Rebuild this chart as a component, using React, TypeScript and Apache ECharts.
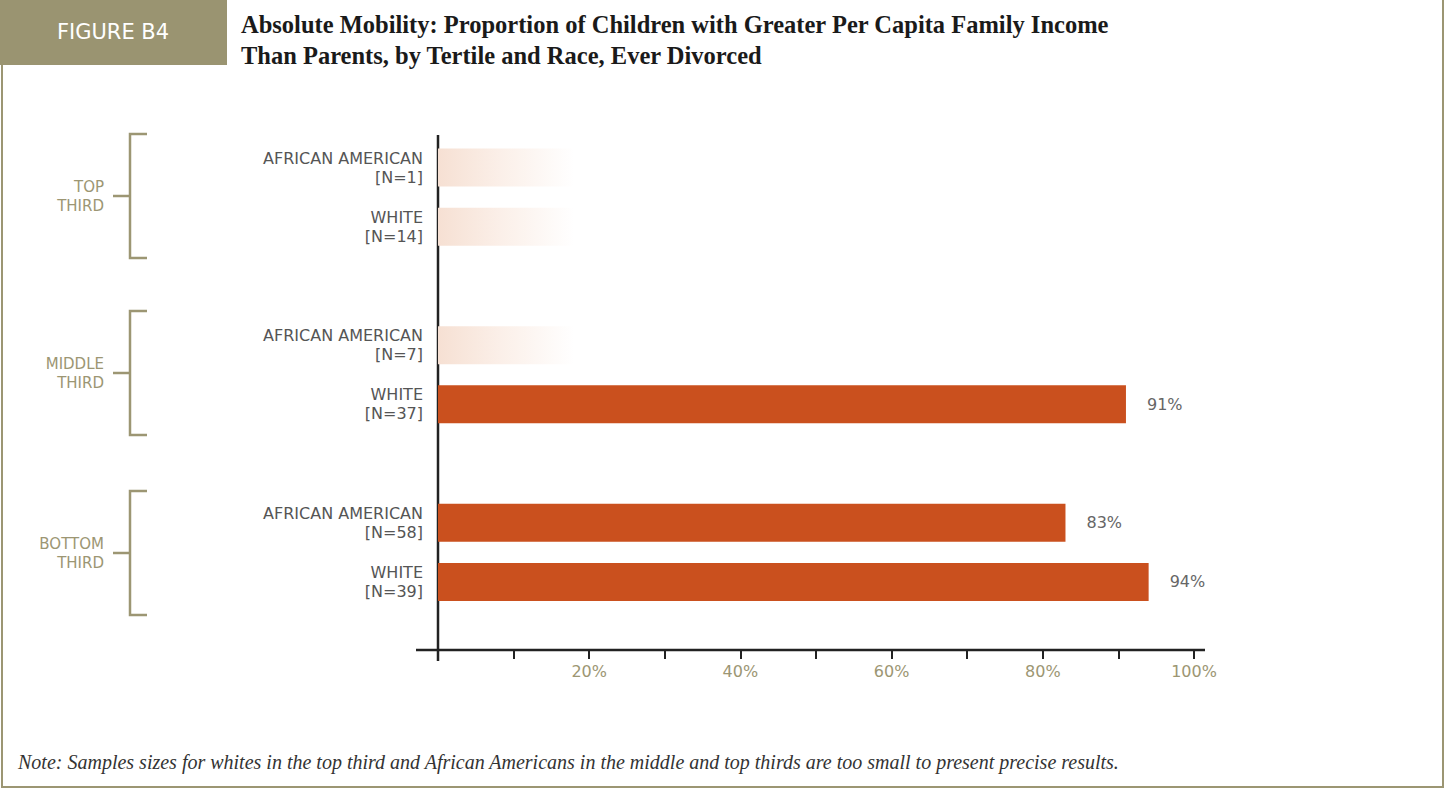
import React, { useEffect, useRef } from "react";
import * as echarts from "echarts";

const categories = [
  "AFRICAN AMERICAN\n[N=1]",
  "WHITE\n[N=14]",
  "",
  "AFRICAN AMERICAN\n[N=7]",
  "WHITE\n[N=37]",
  " ",
  "AFRICAN AMERICAN\n[N=58]",
  "WHITE\n[N=39]",
];
const values: (number | null)[] = [null, null, null, null, 91, null, 83, 94];
const smallSample: (number | null)[] = [18, 18, null, 18, null, null, null, null];
const groupLabels = ["TOP\nTHIRD", "MIDDLE\nTHIRD", "BOTTOM\nTHIRD"];

const TAN = "#9c9673";
const BAR = "#ca501e";
const SANS = "'DejaVu Sans', Verdana, sans-serif";
const SERIF = "'Liberation Serif', 'DejaVu Serif', serif";

export default function App() {
  const ref = useRef<HTMLDivElement>(null);
  useEffect(() => {
    document.body.style.margin = "0";
    const chart = echarts.init(ref.current!, null, { renderer: "svg" });
    const groupCenters = [196, 373, 553];
    const brackets: any[] = [];
    groupCenters.forEach((c, i) => {
      brackets.push({
        type: "polyline",
        shape: { points: [[147, c - 62], [130, c - 62], [130, c + 62], [147, c + 62]] },
        style: { stroke: TAN, lineWidth: 2.5, fill: null },
      });
      brackets.push({
        type: "line",
        shape: { x1: 113, y1: c, x2: 130, y2: c },
        style: { stroke: TAN, lineWidth: 2.5 },
      });
      brackets.push({
        type: "text",
        x: 104,
        y: c,
        style: {
          text: groupLabels[i],
          fill: TAN,
          font: `15px ${SANS}`,
          align: "right",
          verticalAlign: "middle",
          lineHeight: 19,
        },
      });
    });
    chart.setOption({
      animation: false,
      backgroundColor: "#ffffff",
      grid: { left: 438, right: 251, top: 138, bottom: 177.5, containLabel: false },
      xAxis: {
        type: "value",
        min: 0,
        max: 100,
        interval: 10,
        offset: 38.5,
        axisLine: { show: false },
        axisTick: { show: true, length: 9, lineStyle: { color: "#222", width: 2 } },
        splitLine: { show: false },
        axisLabel: {
          color: TAN,
          fontFamily: SANS,
          fontSize: 16,
          margin: 13,
          formatter: (v: number) => (v > 0 && v % 20 === 0 ? v + "%" : ""),
        },
      },
      yAxis: {
        type: "category",
        inverse: true,
        data: categories,
        axisLine: { show: false },
        axisTick: { show: false },
        axisLabel: {
          color: "#555",
          fontFamily: SANS,
          fontSize: 16,
          lineHeight: 19,
          margin: 15,
          align: "right",
        },
      },
      series: [
        {
          type: "bar",
          data: smallSample,
          barWidth: 38,
          barGap: "-100%",
          itemStyle: {
            color: new echarts.graphic.LinearGradient(0, 0, 1, 0, [
              { offset: 0, color: "#f6e0d3" },
              { offset: 0.45, color: "#fbefe8" },
              { offset: 1, color: "#ffffff" },
            ]),
          },
          silent: true,
        },
        {
          type: "bar",
          data: values,
          barWidth: 38,
          barGap: "-100%",
          itemStyle: { color: BAR },
          label: {
            show: true,
            position: "right",
            distance: 21,
            color: "#666",
            fontFamily: SANS,
            fontSize: 16,
            formatter: (p: any) => p.value + "%",
          },
        },
      ],
      graphic: [
        { type: "rect", shape: { x: 0, y: 0, width: 227, height: 65 }, style: { fill: "#9a9471" } },
        {
          type: "text",
          x: 113,
          y: 32,
          style: {
            text: "FIGURE B4",
            fill: "#ffffff",
            font: `21px ${SANS}`,
            align: "center",
            verticalAlign: "middle",
          },
        },
        {
          type: "text",
          x: 241,
          y: 9,
          style: {
            text:
              "Absolute Mobility: Proportion of Children with Greater Per Capita Family Income\nThan Parents, by Tertile and Race, Ever Divorced",
            fill: "#1a1a1a",
            font: `bold 24.5px ${SERIF}`,
            lineHeight: 31,
          },
        },
        { type: "line", shape: { x1: 2, y1: 65, x2: 2, y2: 788 }, style: { stroke: TAN, lineWidth: 2 } },
        { type: "line", shape: { x1: 1443, y1: 0, x2: 1443, y2: 788 }, style: { stroke: TAN, lineWidth: 2 } },
        { type: "line", shape: { x1: 1, y1: 787, x2: 1444, y2: 787 }, style: { stroke: TAN, lineWidth: 2 } },
        { type: "line", shape: { x1: 438, y1: 135, x2: 438, y2: 661 }, style: { stroke: "#222", lineWidth: 2.5 } },
        { type: "line", shape: { x1: 416, y1: 650, x2: 1205, y2: 650 }, style: { stroke: "#222", lineWidth: 2.5 } },
        ...brackets,
        {
          type: "text",
          x: 18,
          y: 762,
          style: {
            text:
              "Note: Samples sizes for whites in the top third and African Americans in the middle and top thirds are too small to present precise results.",
            fill: "#333",
            font: `italic 20px ${SERIF}`,
            verticalAlign: "middle",
          },
        },
      ],
    });
    return () => chart.dispose();
  }, []);
  return <div ref={ref} style={{ position: "fixed", left: 0, top: 0, width: 1445, height: 789 }} />;
}
